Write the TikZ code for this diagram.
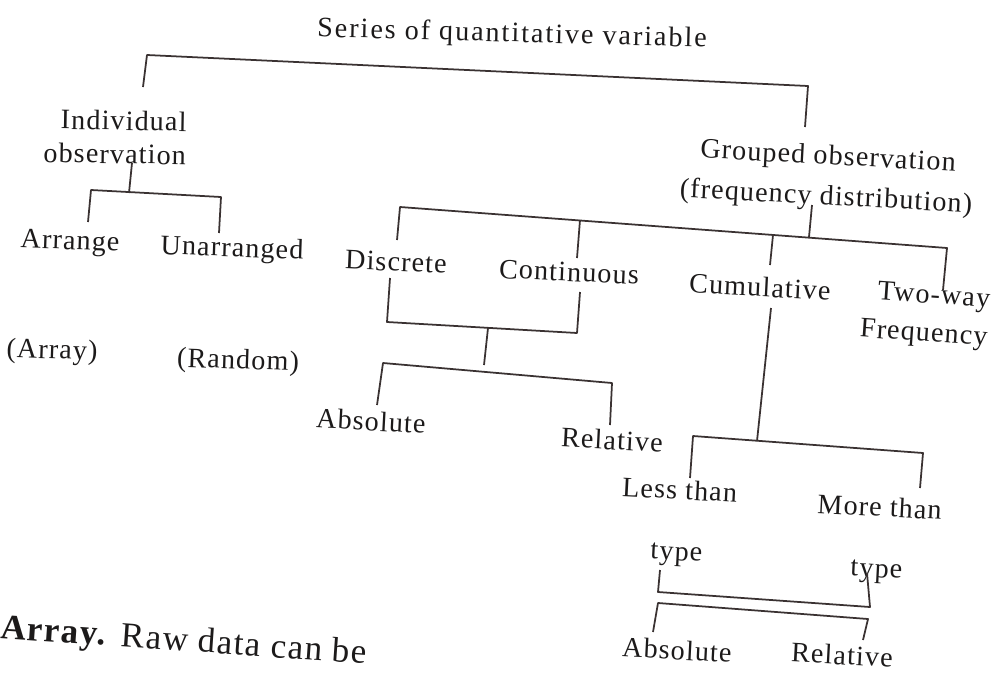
\documentclass[tikz,border=0pt]{standalone}
\usepackage{fontspec}
\setmainfont[LetterSpace=4]{Liberation Serif}
\definecolor{ink}{HTML}{1C1A1A}
\definecolor{rulegray}{HTML}{3A3232}
\tikzstyle{txt} = [font=\fontsize{16}{19}\selectfont, text=ink, inner sep=1pt]
\tikzstyle{branch} = [draw=rulegray, line width=1pt, line join=round]

\begin{document}
\begin{tikzpicture}[x=0.02cm, y=-0.02cm]
\useasboundingbox (0,0) rectangle (993,673);

\node (series) [txt, rotate=-1.5, font=\fontsize{16}{19}\addfontfeature{LetterSpace=7}] at (512,35) {Series of quantitative variable};
\node (indiv) [txt, rotate=-1, align=right] at (115,137) {Individual\\observation};
\node (grouped) [txt, rotate=-3, align=center, font=\fontsize{16}{23}\selectfont] at (827,178) {Grouped observation\\(frequency distribution)};
\node (arrange) [txt, rotate=-2] at (70,243) {Arrange};
\node (unarr) [txt, rotate=-2] at (232,250) {Unarranged};
\node (array) [txt, rotate=-2] at (52,352) {(Array)};
\node (random) [txt, rotate=-2] at (238,362) {(Random)};
\node (discrete) [txt, rotate=-2.5] at (396,262) {Discrete};
\node (contin) [txt, rotate=-2.5] at (569,272) {Continuous};
\node (cumul) [txt, rotate=-3] at (760,287) {Cumulative};
\node (twoway) [txt, rotate=-4, align=right, font=\fontsize{16}{22}\selectfont] at (925,316) {Two-way\\Frequency};
\node (absA) [txt, rotate=-3] at (371,421) {Absolute};
\node (relA) [txt, rotate=-3] at (612,440) {Relative};
\node (less) [txt, rotate=-3, align=center] at (678,523) {Less than\\[0.55cm]type};
\node (more) [txt, rotate=-3, align=center] at (878,540) {More than\\[0.55cm]type};
\node (absB) [txt, rotate=-3] at (677,650) {Absolute};
\node (relB) [txt, rotate=-3] at (842,655) {Relative};
\node (note) [txt, anchor=base west, rotate=-4, font=\fontsize{20}{23}\selectfont] at (-2,638) {\textbf{Array.} Raw data can be};

\coordinate (s-l) at (143,87);
\coordinate (s-bl) at (147,55);
\coordinate (s-br) at (808,86);
\coordinate (s-r) at (805,127);
\draw [branch] (s-l) -- (s-bl) -- (s-br) -- (s-r);

\coordinate (i-top) at (132,163);
\coordinate (i-mid) at (129,193);
\coordinate (i-bl) at (91,190);
\coordinate (i-br) at (221,197);
\coordinate (i-l) at (88,222);
\coordinate (i-r) at (219,233);
\draw [branch] (i-top) -- (i-mid);
\draw [branch] (i-l) -- (i-bl) -- (i-br) -- (i-r);

\coordinate (g-top) at (812,205);
\coordinate (g-mid) at (809,237);
\coordinate (g-bl) at (400,207);
\coordinate (g-br) at (947,248);
\coordinate (g-c) at (580,220);
\coordinate (g-u) at (773,235);
\draw [branch] (g-top) -- (g-mid);
\draw [branch] (397,240) -- (g-bl) -- (g-br) -- (943,290);
\draw [branch] (g-c) -- (577,258);
\draw [branch] (g-u) -- (770,265);

\coordinate (d-l) at (390,278);
\coordinate (d-bl) at (387,322);
\coordinate (d-br) at (577,333);
\coordinate (d-r) at (580,292);
\coordinate (d-mid) at (488,328);
\coordinate (d-low) at (484,365);
\draw [branch] (d-l) -- (d-bl) -- (d-br) -- (d-r);
\draw [branch] (d-mid) -- (d-low);
\coordinate (a-bl) at (383,363);
\coordinate (a-br) at (612,383);
\draw [branch] (377,405) -- (a-bl) -- (a-br) -- (610,425);

\coordinate (c-top) at (771,308);
\coordinate (c-low) at (757,441);
\draw [branch] (c-top) -- (c-low);
\coordinate (c-bl) at (693,436);
\coordinate (c-br) at (923,453);
\draw [branch] (690,478) -- (c-bl) -- (c-br) -- (920,488);

\coordinate (t-l) at (660,570);
\coordinate (t-bl) at (658,592);
\coordinate (t-br) at (870,607);
\coordinate (t-r) at (867,573);
\draw [branch] (t-l) -- (t-bl) -- (t-br) -- (t-r);
\coordinate (b-bl) at (658,603);
\coordinate (b-br) at (868,619);
\draw [branch] (653,632) -- (b-bl) -- (b-br) -- (863,640);
\end{tikzpicture}
\end{document}
